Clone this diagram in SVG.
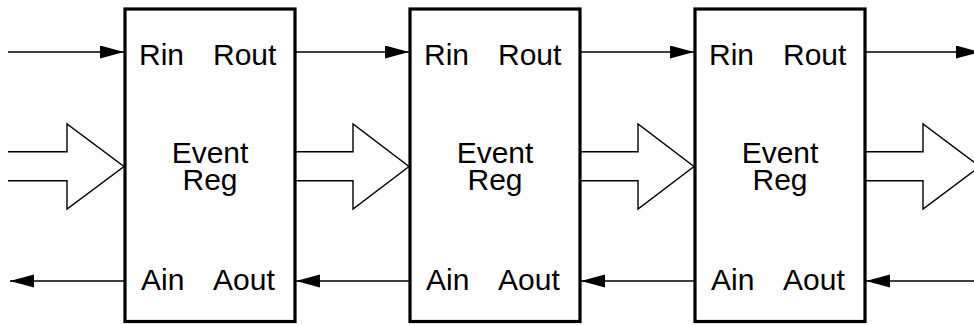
<svg xmlns="http://www.w3.org/2000/svg" width="974" height="325" viewBox="0 0 974 325">
<style>
.box{fill:#fff;stroke:#000;stroke-width:3.2}
.t{font-family:"Liberation Sans",Arial,sans-serif;font-size:30px;fill:#000}
.c{text-anchor:middle}
.ln{stroke:#000;stroke-width:1.6;fill:none}
.fat{stroke:#000;stroke-width:1.4;fill:#fff;stroke-linejoin:miter}
</style>
<defs>
<marker id="ah" markerUnits="userSpaceOnUse" markerWidth="26" markerHeight="14" refX="24" refY="6.5" orient="auto">
<path d="M0,0 L24,6.5 L0,13 Z" fill="#000"/>
</marker>
</defs>
<g id="connectors">
<line class="ln" x1="8" y1="52" x2="124" y2="52" marker-end="url(#ah)"/>
<line class="ln" x1="296" y1="52" x2="409" y2="52" marker-end="url(#ah)"/>
<line class="ln" x1="581" y1="52" x2="694" y2="52" marker-end="url(#ah)"/>
<line class="ln" x1="866" y1="52" x2="980" y2="52" marker-end="url(#ah)"/>
<line class="ln" x1="124" y1="281" x2="10" y2="281" marker-end="url(#ah)"/>
<line class="ln" x1="409" y1="281" x2="296" y2="281" marker-end="url(#ah)"/>
<line class="ln" x1="694" y1="281" x2="581" y2="281" marker-end="url(#ah)"/>
<line class="ln" x1="976" y1="281" x2="866" y2="281" marker-end="url(#ah)"/>
<path class="fat" d="M8,151.7 H67 V124 L124,166.5 L67,209 V180.7 H8"/>
<path class="fat" d="M296,151.7 H353 V124 L409,166.5 L353,209 V180.7 H296"/>
<path class="fat" d="M581,151.7 H638 V124 L694,166.5 L638,209 V180.7 H581"/>
<path class="fat" d="M866,151.7 H923 V124 L980,166.5 L923,209 V180.7 H866"/>
</g>
<g id="reg1">
<rect class="box" x="125" y="9" width="170" height="312.5"/>
<text class="t" x="139" y="65">Rin</text>
<text class="t" x="213" y="65">Rout</text>
<text class="t c" x="210" y="163">Event</text>
<text class="t c" x="210" y="190">Reg</text>
<text class="t" x="141" y="289.5">Ain</text>
<text class="t" x="213" y="289.5">Aout</text>
</g>
<g id="reg2">
<rect class="box" x="410" y="9" width="170" height="312.5"/>
<text class="t" x="424" y="65">Rin</text>
<text class="t" x="498" y="65">Rout</text>
<text class="t c" x="495" y="163">Event</text>
<text class="t c" x="495" y="190">Reg</text>
<text class="t" x="426" y="289.5">Ain</text>
<text class="t" x="498" y="289.5">Aout</text>
</g>
<g id="reg3">
<rect class="box" x="695" y="9" width="170" height="312.5"/>
<text class="t" x="709" y="65">Rin</text>
<text class="t" x="783" y="65">Rout</text>
<text class="t c" x="780" y="163">Event</text>
<text class="t c" x="780" y="190">Reg</text>
<text class="t" x="711" y="289.5">Ain</text>
<text class="t" x="783" y="289.5">Aout</text>
</g>
</svg>
